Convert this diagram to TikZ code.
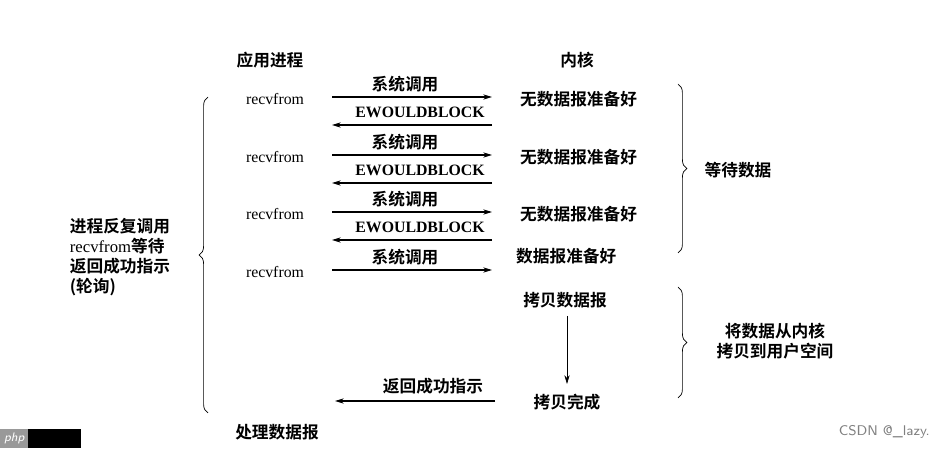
\documentclass[tikz,border=0pt]{standalone}
\usepackage{fontspec}
\setmainfont{Liberation Serif}
\newfontfamily\cjk{Noto Sans CJK SC}[BoldFont={Noto Sans CJK SC Bold}]
\usetikzlibrary{arrows.meta,decorations.pathreplacing}
\begin{document}
\begin{tikzpicture}[x=0.02cm, y=-0.02cm, font=\fontsize{9}{11}\selectfont,
    zh/.style={font=\fontsize{9.5}{11.5}\selectfont\cjk\bfseries},
    call/.style={-{Stealth[length=5pt,width=3pt]}, semithick},
    brc/.style={decorate, decoration={brace, amplitude=5pt}, thin}]
        \useasboundingbox (0,0) rectangle (938,449);
        \node[zh] (app) at (270,60) {应用进程};
        \node[zh] (kern) at (577,60) {内核};
        % three failed calls
        \foreach \i/\y in {1/97,2/155,3/212} {
            \node (r\i) at (275,\y+2) {recvfrom};
            \coordinate (a\i) at (332,\y);
            \coordinate (b\i) at (492,\y);
            \node[zh] (s\i) at (405,\y-13) {系统调用};
            \node[zh, anchor=west] (n\i) at (514,\y+2) {无数据报准备好};
            \coordinate (c\i) at (492,\y+28);
            \coordinate (d\i) at (332,\y+28);
            \node[font=\fontsize{9}{11}\selectfont\bfseries] (e\i) at (420,\y+15) {EWOULDBLOCK};
            \draw[call] (a\i) -- (b\i);
            \draw[call] (c\i) -- (d\i);
        }
        % last call
        \node (r4) at (275,272) {recvfrom};
        \coordinate (a4) at (332,270);
        \coordinate (b4) at (492,270);
        \node[zh] (s4) at (405,257) {系统调用};
        \node[zh, anchor=west] (n4) at (510,256) {数据报准备好};
        \draw[call] (a4) -- (b4);
        % copy
        \node[zh] (cp) at (565,300) {拷贝数据报};
        \node[zh] (done) at (567,402) {拷贝完成};
        \coordinate (cp1) at (567,316);
        \coordinate (cp2) at (567,384);
        \draw[-{Stealth[length=5pt,width=3pt]}] (cp1) -- (cp2);
        \coordinate (ret1) at (495,401);
        \coordinate (ret2) at (335,401);
        \draw[call] (ret1) -- (ret2);
        \node[zh] (ok) at (433,386) {返回成功指示};
        \node[zh] (proc) at (277,432) {处理数据报};
        % braces
        \coordinate (w1) at (678,84);
        \coordinate (w2) at (678,253);
        \draw[brc] (w1) -- (w2);
        \node[zh] (wait) at (738,170) {等待数据};
        \coordinate (k1) at (678,287);
        \coordinate (k2) at (678,398);
        \draw[brc] (k1) -- (k2);
        \node[zh, align=center] (copy) at (775,341) {将数据从内核\\拷贝到用户空间};
        \coordinate (l1) at (208,413);
        \coordinate (l2) at (208,97);
        \draw[brc] (l1) -- (l2);
        \node[zh, align=left] (poll) at (120,257) {进程反复调用\\{\rmfamily\mdseries recvfrom}等待\\返回成功指示\\(轮询)};
        % watermarks
        \fill (28,429) rectangle (81,448);
        \node[fill=gray!80, text=white, inner sep=1pt, minimum height=19pt*0.567, minimum width=28*0.567pt, font=\sffamily\itshape\fontsize{7}{8}\selectfont, anchor=north west] (php) at (0,429) {php};
        \node[text=gray, font=\sffamily\fontsize{8}{10}\selectfont, anchor=east] (csdn) at (936,432) {CSDN @\_lazy.};
\end{tikzpicture}
\end{document}
